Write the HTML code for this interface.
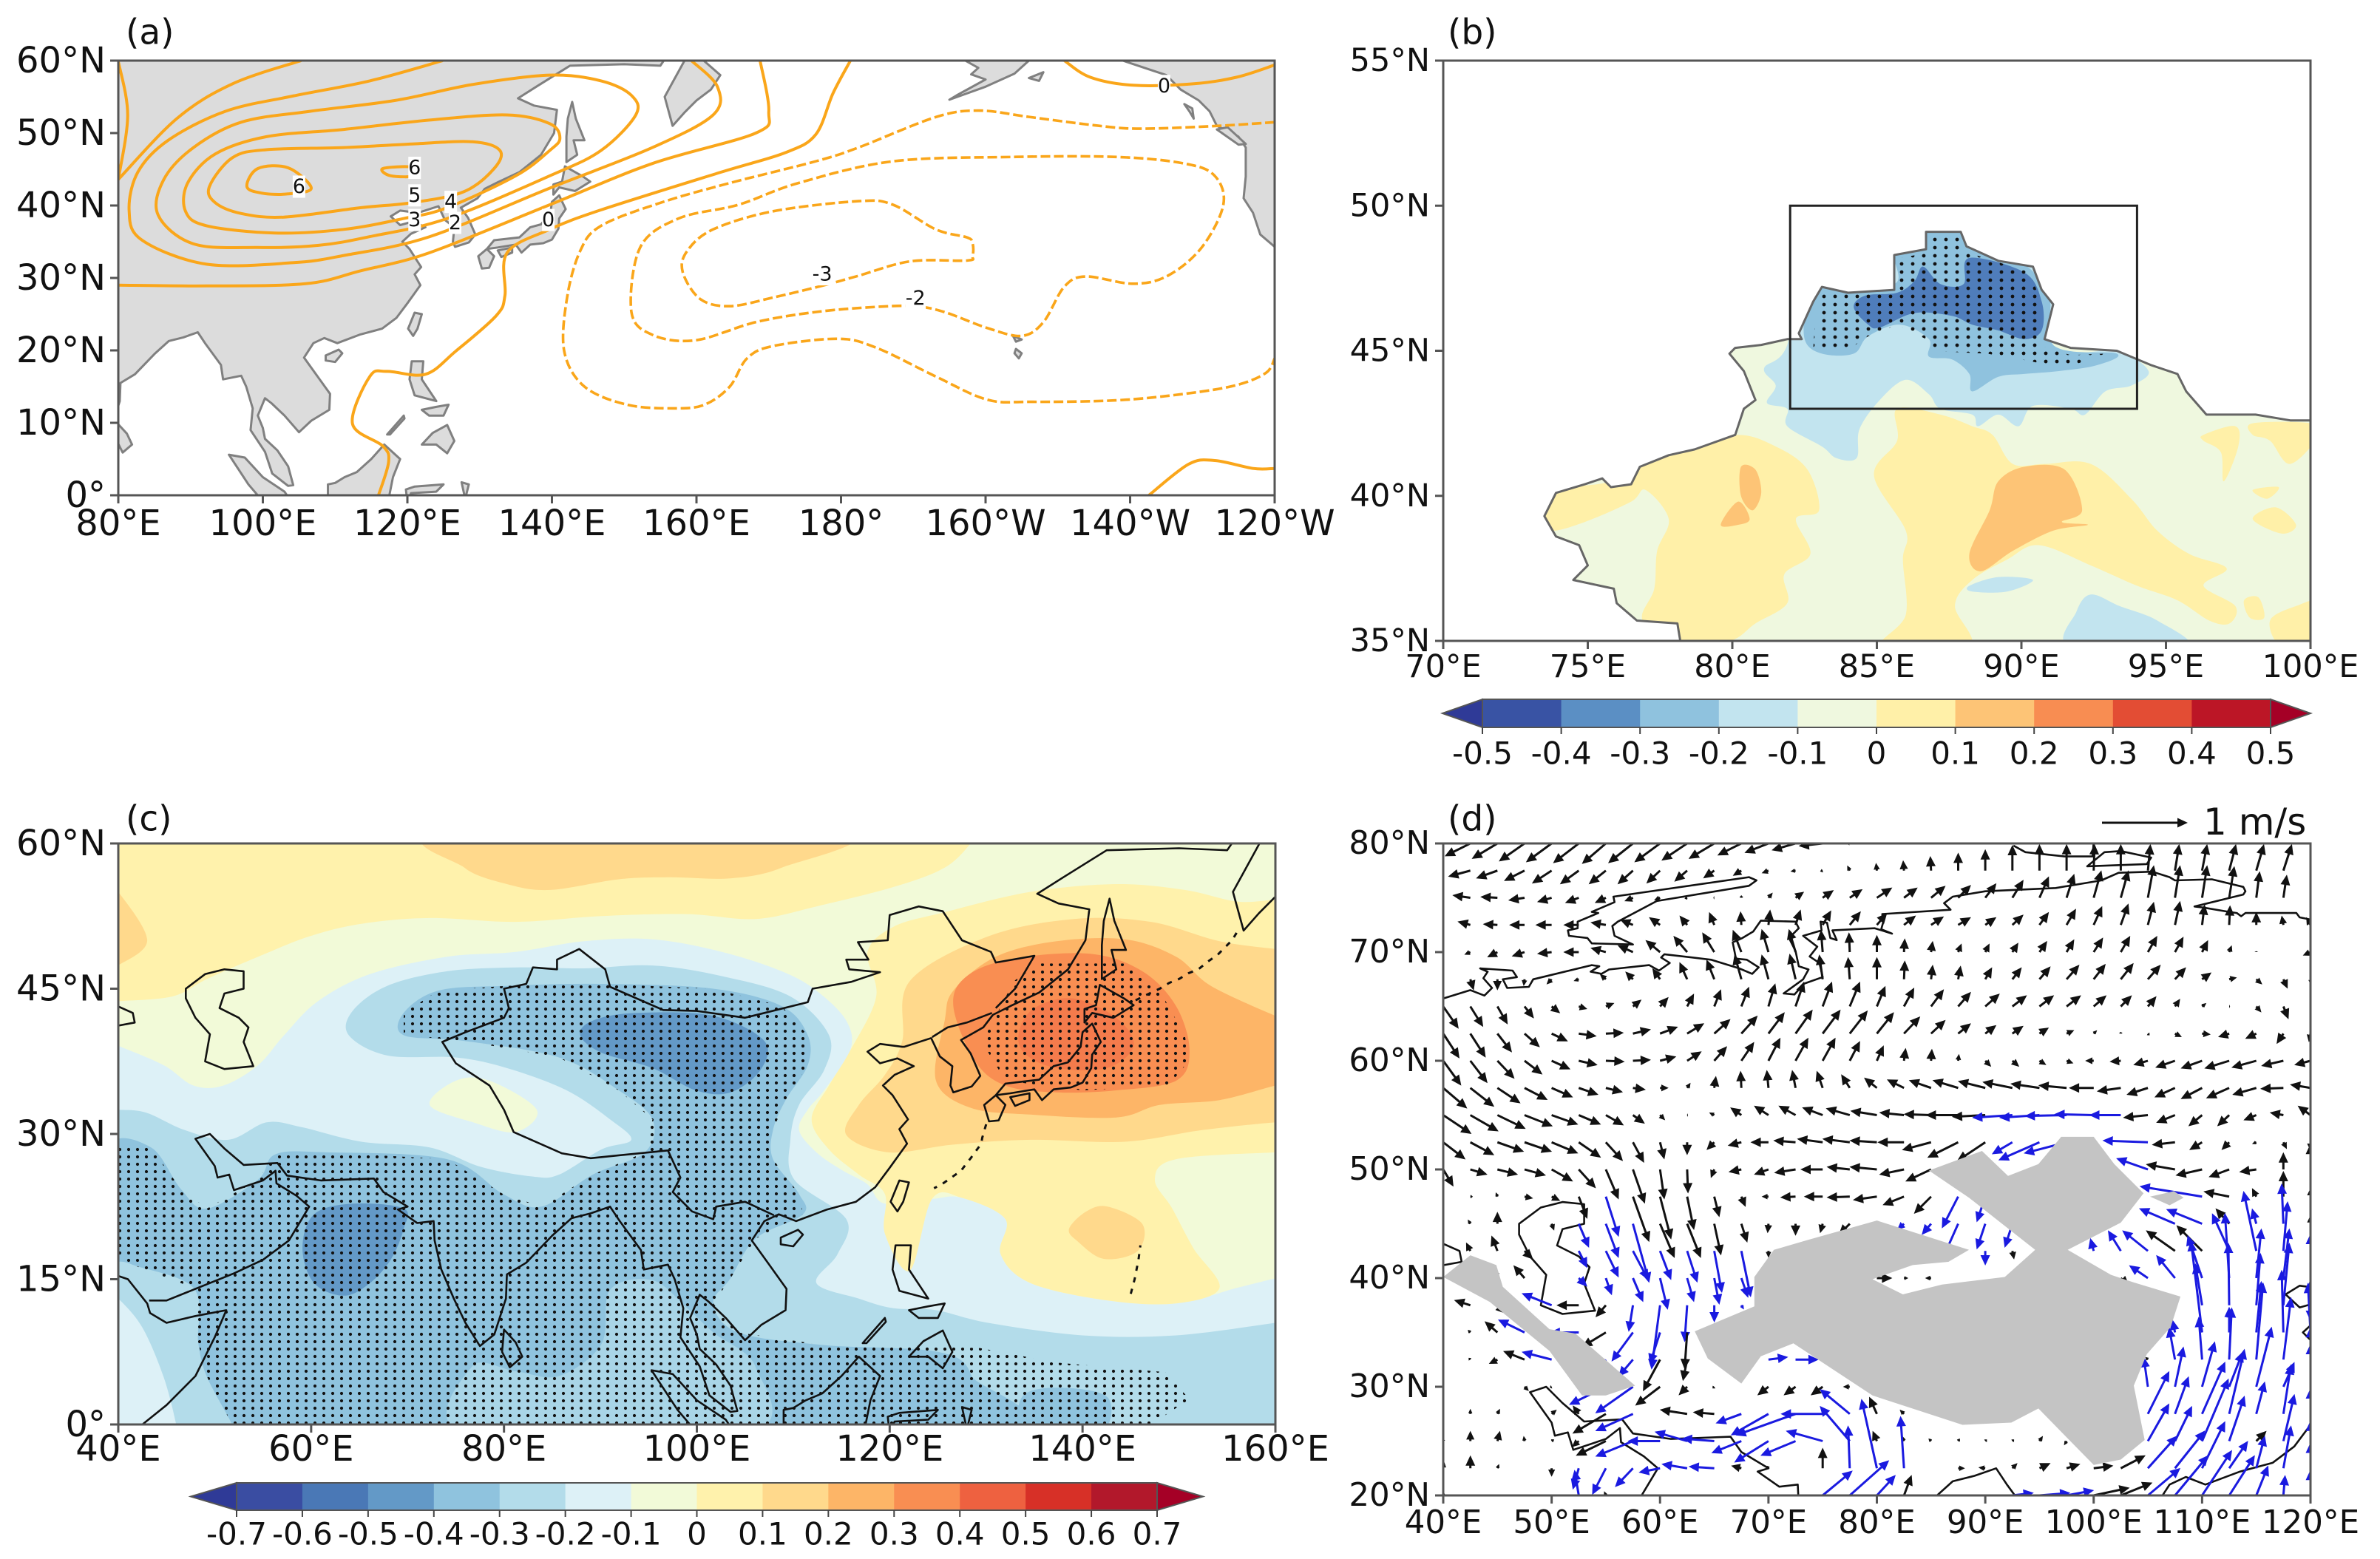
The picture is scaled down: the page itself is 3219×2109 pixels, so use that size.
<!DOCTYPE html>
<html lang="en"><head><meta charset="utf-8"><title>Four-panel climate anomaly maps</title>
<style>html,body{margin:0;padding:0;background:#fff;width:3219px;height:2109px;overflow:hidden}svg{display:block;overflow:hidden}text{font-family:"DejaVu Sans","Liberation Sans",sans-serif;fill:#111}</style></head>
<body>
<svg id="fig" xmlns="http://www.w3.org/2000/svg" width="3219" height="2109" viewBox="0 0 3219 2109">
<defs>
<pattern id="dotsB" patternUnits="userSpaceOnUse" width="15" height="11"><circle cx="7" cy="5" r="2.4" fill="#111"/></pattern>
<pattern id="dotsC" patternUnits="userSpaceOnUse" width="12" height="10"><circle cx="6" cy="5" r="2.1" fill="#111"/></pattern>
</defs>
</svg>
<script>
// ---------- shared geography (lon, lat) ----------
const asiaCoast=[[43.2,12.8],[45,12.8],[48,14],[52,15.6],[55,17],[57.7,19],[59.8,22.5],[58.5,23.6],[56.4,24.9],[56.3,26.2],[55,25.2],[52,24.2],[51.5,25.8],[50.3,25.5],[50,26.7],[48,29.5],[49.5,30],[51,28.5],[53,26.8],[56.5,27],[57.5,25.7],[61,25.2],[66.5,25.4],[67.5,24],[70,22.5],[69,22.2],[71,20.8],[72.7,21],[72.8,19],[73.5,16],[74.8,13],[76,10.5],[77.5,8.1],[79,9.3],[80.2,13],[80.3,15.5],[82.3,16.7],[85,19.5],[87,21.3],[89,21.8],[91,22.5],[92,21],[94.2,18],[94.5,16],[97,16.5],[97.7,15],[98.6,12],[98.3,9],[100.3,6],[101.3,3],[103.5,1.3],[104.2,1.4],[103.5,4],[102,6.2],[100.3,7.8],[100,9.3],[99.3,11],[100.3,13.4],[101.2,12.7],[103,11],[105,8.7],[106.7,10.3],[109.2,11.8],[109.3,14],[107.5,16.5],[105.7,19],[107,21],[108.5,21.7],[110.3,21],[113.5,22.2],[116.5,23],[118.5,24.5],[120,26.5],[121.8,29],[121,30.5],[121.9,31.5],[120.3,34],[119.3,35],[120.5,36.1],[122.5,37],[120.8,37.8],[119,37.3],[117.7,38.5],[119,39.3],[121.3,39],[121.5,39],[124.3,39.9],[125.2,38],[126.5,37],[126.3,35],[126.6,34.3],[128.5,34.9],[129.4,36],[128.4,38.3],[127.4,39.7],[129.7,41],[130.7,42.3],[132.5,43.2],[135.5,44.6],[138.5,47],[140.3,50],[140.7,53.2],[137.5,53.8],[135.3,54.8],[138,56.5],[142.5,59.3],[150,59.5],[155,59.3],[156.5,61.5],[163,63]];
const africaCoast=[[42.5,0],[45,2],[48,5],[50,9],[51.2,11.8],[48,11.2],[45,10.5],[43.3,11.5],[43,12.5],[41,15],[39.5,15.5],[38.5,18],[37.2,21]];
const kamchatka=[[160,63],[156.7,57],[155.6,55],[156.7,51],[158.3,52.8],[160,54.5],[162,56],[163.3,58],[161,60],[165,63]];
const sakhalin=[[142,46],[143.5,47],[143,49],[144.5,49],[143.3,52],[142.8,54.3],[142.2,52],[142,49.5]];
const hokkaido=[[140.2,41.5],[141,42.5],[143.2,42],[145.3,43.3],[144.3,44],[141.8,45.4],[141.4,43.3],[140.2,42.9]];
const honshu=[[141,41.4],[141.9,39.5],[141,38.2],[140.9,36.8],[140,35.3],[138.8,34.8],[137,34.6],[135.8,33.5],[135,34.6],[132.5,34.2],[131,34],[132,35.2],[135.5,35.6],[137,37],[138.5,37.4],[139.8,39],[140,40.5]];
const kyushu=[[131,34],[132,33],[131.3,31.4],[130.3,31.3],[129.8,33]];
const shikoku=[[132.5,33.8],[134.5,34.2],[134.5,33.5],[133,32.9]];
const taiwan=[[121,25.2],[122,25],[121.4,23],[120.8,22],[120.1,23]];
const hainan=[[108.7,19.3],[110.5,20.1],[111,19.6],[110,18.4],[108.7,18.6]];
const luzon=[[120.6,18.5],[122.2,18.5],[122,16],[124,13],[121,13.8],[120.3,16]];
const visayas=[[122,11.8],[123,11],[125,11],[125.7,12.5],[124,12.2]];
const mindanao=[[122,7],[123.5,8.6],[125.5,9.7],[126.5,7.5],[125.5,5.8],[124,7]];
const palawan=[[117.2,8.4],[119.5,11],[119.6,10.6],[117.6,8.4]];
const borneo=[[109,1.5],[110,1.7],[111.3,2.5],[113,3.2],[115,5],[116.8,7],[119,5],[118,2.5],[117.5,0],[117,-1],[109,-1],[109,0]];
const sumatra=[[95.3,5.6],[97.5,5.2],[100,2.5],[103,0.5],[104,-1],[101,-2],[98,1.5]];
const sulawesi=[[119.8,0.8],[121,1.2],[125,1.5],[124,0.5],[120.5,0.3],[120,-1]];
const halmahera=[[127.5,1.8],[128,-0.5],[128.5,1.5]];
const sriLanka=[[80,9.8],[81.2,8.5],[81.9,7],[80.6,5.9],[79.8,7.5]];
const caspian=[[47,45],[49,46.5],[51,47],[53,46.8],[53,45],[51,44.5],[50.5,43],[52.5,42],[53.5,41],[53,39.5],[54,37],[51,36.7],[49,37.5],[49.5,40.3],[48,42],[47,44]];
const blackSea=[[39,41],[41.7,41.5],[41.5,42.5],[39,43.6]];
const hawaii=[[203.8,22],[205,21.5],[204.2,21.2]];
const hawaiiBig=[[204.2,20.2],[205,19.6],[204.6,18.9],[204,19.6]];
const alaska=[[195,54.6],[200,56.4],[204,58.2],[206,60],[207,63],[197,63],[197.2,60],[199,59],[198,58.1],[200,57.4],[196,55.2]];
const kodiak=[[206,57.6],[208,58.4],[207.4,57.2]];
const northAmerica=[[211,60],[214,60.5],[219,60],[222,59],[225,58],[227,56],[229.5,54.5],[231,53],[232,51],[235,49.5],[236,48],[236,44],[235.7,41],[237,39],[238,36],[240,34.3],[245,34],[245,63],[211,63]];
const haidaGwaii=[[227.5,54],[228.2,53],[228.8,52],[228.6,53.4]];
const vancouver=[[232,50.5],[235,48.4],[236,48.5],[233.5,50.8]];
const chinaBorder=[[131,43],[133,45],[135,48.4],[131,47.7],[130.5,48.8],[127.5,50],[125.5,53],[123,53.5],[120,52.6],[119.8,50],[116.7,49.8],[117.8,48],[115.5,48],[115.8,47],[119,46.7],[116,45.7],[112,45],[111.5,43.6],[105,42],[100,42.7],[96.5,42.8],[91,45.2],[90.5,47],[87.8,49.1],[85.5,48],[85.5,47],[83,47.2],[82.3,45.5],[80,45],[80.5,43],[80,42],[76,40.5],[73.6,39.5],[75,37.3],[78.5,35],[80,32.5],[81,30.2],[86,28],[89,27.5],[92,27.8],[97,28.3],[98.3,25.5],[97.5,24],[99.5,22],[101.7,21.2],[102,22.5],[105,23],[108,21.6]];
const koreaBorder=[[130.6,42.5],[128,41.5],[126,41],[124.4,40]];
const kurils=[[145.5,43.8],[146.5,44.3],[148,45],[149,45.6],[150,46],[151,46.6],[152,47],[153,47.8],[154,48.5],[155,49.5],[155.5,50],[156,50.8]];
const ryukyu=[[130,31],[129.6,29.6],[129.5,29],[128.4,27.5],[128,27],[127.4,26.2],[125.4,24.8],[124.6,24.4]];
const marianas=[[145,13.5],[145.4,15],[145.8,17],[146,18.5]];
const arcticCoast=[[39.9,65.7],[42.5,66.5],[43.8,66],[44.5,66.7],[43.7,67.6],[44.1,68.2],[43.4,68.5],[46.4,68.3],[46.8,67.7],[45.5,67.5],[45.9,66.7],[47.9,66.8],[48.3,67.5],[53.7,68.8],[54.4,68.7],[53.6,68.2],[54.6,68],[55.3,68.4],[59,68.8],[59.9,68.3],[60.9,69],[60.1,69.5],[60.4,69.8],[64.7,69.3],[67.3,68.5],[68.5,68],[69.1,68.6],[68,69.3],[67,69.4],[66.7,70.9],[67.6,71.3],[68.6,71.9],[69.3,72.9],[72.5,72.8],[72.8,72.2],[71.9,71.3],[72.5,70.1],[72.8,68.7],[73.7,68.4],[73.2,67.5],[71.4,66.2],[72.4,66.1],[73.3,67.1],[75,67.7],[74.7,69],[73.8,69.6],[74.5,70.5],[73.2,71.5],[74.9,72],[74.8,72.8],[75.4,72.7],[75.7,71.3],[76.3,71.1],[75.9,72],[79.8,72.2],[81.4,71.7],[80.4,72.1],[80.6,72.8],[80.5,73.5],[86.8,73.9],[86.2,74.5],[87,75.1],[90,75.6],[96.5,75.9],[100.7,76.6],[102.3,77.3],[105.4,77.4],[107,76.9],[107.5,76.6],[110.9,76.7],[113.8,76],[114,75.6],[113.8,75.3],[109.3,74.2],[110.1,74.1],[112.5,73.7],[113.2,73.6],[113.6,73.3],[114,73.6],[118.7,73.6],[119,73.2],[120,73]];
const novayaZemlya=[[55.7,75.1],[68.2,76.9],[68.9,76.6],[68.2,76.1],[59.7,74.7],[56.1,72.8],[55.6,72.4],[55.8,71.5],[57.5,70.7],[53.7,70.8],[53.3,71.3],[51.6,71.5],[51.5,72],[52.4,72.2],[52.4,72.8],[54.3,73.6],[53.7,73.7],[55.8,74.6]];
const severnayaA=[[92.6,79.8],[93.7,79.2],[97.3,78.8],[99.9,78.8],[100,80.2]];
const severnayaB=[[99.4,77.9],[101,79.2],[102.5,79.3],[105.3,78.7],[104.9,78.1]];
const islandsSmall=[hainan,taiwan,luzon,visayas,mindanao,palawan,borneo,sumatra,sulawesi,halmahera,sriLanka,sakhalin,hokkaido,honshu,kyushu,shikoku];

// ---------- panel (a) contours, lon/lat ----------
const contourZero=[[181.3,60],[178.9,55.5],[176.5,49.8],[172.3,47.3],[163.4,44.6],[146.8,39.4],[139.7,36.7],[133.8,33.5],[133.5,27.6],[132.3,24.8],[126.7,19.9],[122.5,16.7],[117.2,17.1],[114.8,16.4],[112.4,9.9],[116.6,6.8],[117.4,4.6],[116,0]];
const contourOneNorth=[[105.3,60],[95.8,56.8],[88.1,52],[80,43.6]];
const contourOneEdge=[[80,59.9],[81.3,52.5],[80,43.6]];
const contourOneSouth=[[80,29],[92.2,28.9],[105.9,29.2],[113.6,31],[123.1,33.5],[139.7,40.1],[153.9,45.8],[168.2,50],[170,53],[168.8,60]];
const contourTwo=[[124.9,60],[114.8,57.2],[104.1,55.1],[94.8,53],[86.9,49],[82.7,44.6],[81.5,39.2],[83.3,35.2],[92.2,31.9],[104.1,32.1],[111.2,33.1],[123.1,35.7],[139.7,42.4],[153.9,48],[162.3,52.5],[162.9,56.4],[159.3,60]];
const contourThree=[[139.7,58],[129,56.7],[118.3,54.5],[106.5,53],[97,51.5],[90.4,48],[86.3,43.6],[85.5,38.7],[90.4,34.7],[99.3,34.2],[107.7,34.5],[114.8,35.7],[125.5,38.2],[139.7,44.1],[146.8,47.6],[151.6,52.5],[151,55.2],[146.8,57.2]];
const contourFour=[[133.8,52.5],[123.1,51.8],[111.2,50.5],[100.5,49.5],[93.4,47.1],[89.6,43.1],[89.3,39.2],[92.2,37.2],[101.7,36.2],[111.2,36.7],[119.5,38.2],[125.5,39.7],[135,44.1],[139.7,47.6],[141.1,49.3],[139.7,51.3]];
const contourFive=[[129,48.8],[120.7,48.5],[111.2,48],[100.5,47.7],[95.8,46.6],[92.6,42.6],[93.4,40.4],[97,38.9],[102.9,38.4],[113.6,39.7],[120.7,40.4],[127.8,41.9],[132,45.1],[132.8,47.6]];
const contourSixWest=[[99.3,45.1],[103.5,45.2],[106.7,42.4],[103.5,41.6],[99.9,41.7],[97.8,42.6]];
const contourSixEast=[[116.6,45.1],[120.7,45.3],[121.3,44.1],[117.7,44.1]];
const contourZeroNE=[[210.9,60],[214.5,57.7],[220.4,56.6],[228.7,56.8],[234.7,57.7],[240,59.4]];
const contourZeroSE=[[222.6,0],[228.1,4.3],[231.7,4.8],[237,3.7],[240,3.7]];
const contourMinusOne=[[240,51.5],[232.3,51],[221.6,50.6],[215.7,51],[206.2,52.2],[199.1,53.1],[193.1,52.2],[182.4,48],[176.5,46.1],[164.6,43.1],[155.1,40.4],[146.8,37.2],[143.9,33.7],[142.1,27.3],[141.7,19.9],[144.5,15],[150.4,12.5],[156.9,12],[161.1,12.5],[164.6,15],[167,18.9],[170.6,20.6],[179.5,21.6],[184.8,20.4],[193.1,16.4],[200.2,13.2],[206.2,12.9],[218,13.1],[227.5,14],[234.7,15.2],[238.8,16.9],[240,18.9]];
const contourMinusTwo=[[190.2,26.1],[184.8,26],[176.5,25.3],[168.2,23.9],[159.9,21.4],[154,22.1],[151,25.3],[152.2,34.2],[157.5,38.2],[165.8,40.1],[174.1,43.1],[187.2,46.1],[203.8,46.7],[218.1,46.7],[227.5,45.8],[231.7,44.1],[232.9,40.1],[229.9,34.2],[225.2,30.3],[220.4,29.2],[213.9,30.2],[210.9,28.8],[208,23.9],[205,22],[200.2,23.1],[194.3,25.3]];
const contourMinusThree=[[177.7,29],[170.6,27.3],[164.6,26.1],[160.5,27.1],[158.1,30.8],[158.7,33.7],[162.3,36.7],[170.6,39.2],[182.4,40.6],[187.2,40.1],[193.1,36.7],[197.4,35.6],[198.2,34.8],[198.2,33],[197.4,32.4],[189.6,32.3],[182.4,30.3]];
const contourLabels=[["6",105,42.6],["6",121,45.2],["5",121,41.4],["4",126,40.5],["3",121,38],["2",126.6,37.6],["0",139.5,38],["-3",177.4,30.5],["-2",190.3,27.2],["0",224.7,56.5]];

// ---------- panel (b) temperature bands, lon/lat ----------
const xinjiangBorder=[[78.2,35],[78.1,35.6],[76.7,35.7],[76,36.3],[75.9,36.8],[74.5,37.1],[75,37.6],[74.7,38.3],[73.9,38.6],[73.5,39.3],[73.9,40.1],[74.9,40.4],[75.5,40.6],[75.8,40.3],[76.5,40.4],[76.8,41],[77.8,41.4],[78.7,41.6],[80.1,42.1],[80.4,43],[80.8,43.3],[80.4,44.3],[79.9,44.9],[80.1,45.1],[81,45.2],[81.9,45.4],[82.4,45.4],[82.3,45.6],[82.8,46.7],[83.1,47.2],[84,47],[85.6,47.1],[85.6,48.3],[86.7,48.5],[86.7,49.1],[87.9,49.1],[88.1,48.6],[89.2,48.1],[90.4,47.9],[90.7,47.1],[91.1,46.6],[90.8,45.4],[91.7,45.1],[93.3,45],[94.5,44.5],[95.4,44.2],[95.7,43.6],[96.4,42.8],[98.1,42.8],[99.3,42.6],[100,42.6]];
const bYellowWest=[[73.7,38.8],[74.9,39.1],[76.5,39.8],[77,40.2],[77.8,39.2],[77.4,38.1],[77.3,36.8],[76.9,35.7],[78.2,35],[79.9,35],[80.8,35.6],[81.9,36.3],[81.8,37.3],[82.7,38],[82.2,39.2],[83,39.5],[82.6,40.9],[81.5,41.7],[80.1,42.1],[77.8,41.6],[75.8,40.5],[73.5,40.2],[73.3,39.3]];
const bOrangeWestA=[[80.3,41],[80.8,40.9],[81,40.1],[80.7,39.5],[80.3,40]];
const bOrangeWestB=[[79.6,39],[80.2,39.8],[80.6,39.2],[80.2,39]];
const bYellowCentral=[[85.7,43],[87.2,42.8],[88.3,42.4],[89,42.1],[89.7,41.1],[90.8,41.1],[92.4,41.1],[93.8,39.9],[94.7,38.8],[95.8,38],[97.1,37.5],[96.3,36.9],[97.4,36.2],[97.2,35.6],[96.5,35.7],[95.4,36.4],[94,36.9],[92.4,37.6],[90.6,38.3],[89.5,37.8],[88.3,37.1],[87.7,36.2],[88.2,34.8],[85.2,34.8],[86,35.9],[85.9,37.8],[86,38.8],[84.9,40.7],[85.7,41.9]];
const bOrangeCentral=[[88.2,38],[88.9,39.5],[89.2,40.5],[90.1,41],[91.5,40.9],[92.1,39.5],[91.4,39.1],[92.3,39],[91.1,38.8],[89.7,38.1],[88.6,37.4]];
const bYellowEast=[[[96.3,42.1],[97.4,42.4],[97.5,41.7],[97,40.5],[96.9,41.5],[96.3,41.9]],[[98,42.5],[100,42.5],[100.3,42.1],[99.3,41.1],[98.6,41.9],[98,42.1]],[[98,40.2],[98.9,40.3],[98.5,39.9]],[[98,39.2],[98.8,39.6],[99.5,39],[99,38.7]],[[98.6,35.7],[99.5,36.2],[100.3,36.3],[100.3,34.8],[99,34.8]],[[97.7,36.4],[98.2,36.5],[98.4,35.8],[97.9,35.8]]];
const bLightBlue=[[81.9,45.2],[81.1,44.4],[81.5,43.8],[81.2,43.2],[81.9,43],[81.9,42.4],[83.1,41.7],[83.6,41.3],[84.3,41.3],[84.4,42.3],[85.1,43.3],[86,44],[86.8,43.5],[87.2,43],[88.3,42.8],[88.5,42.4],[89.2,42.8],[89.9,42.4],[90.4,43.1],[91.7,43],[92.2,42.8],[92.9,43.6],[93.8,43.8],[94.4,44.3],[93.3,45],[91.1,45.2],[91.3,48.8],[86.7,49.5],[82.6,48.5]];
const bLightBlueSouth=[[[88.2,36.9],[89.2,37.2],[90.4,37.1],[89.5,36.7],[88.3,36.7]],[[91.7,34.8],[91.9,36],[92.4,36.6],[93.4,36.2],[94.7,35.7],[95.7,34.8]]];
const bMidBlue=[[82.5,45.4],[82.6,46.7],[83.1,47.4],[85.6,47.3],[85.6,48.5],[86.7,49.3],[88.1,49.3],[90.8,47.3],[91.1,45.2],[93.3,44.9],[92.6,44.5],[91.3,44.3],[90.1,44.2],[89.2,44.1],[88.3,43.6],[88.2,44.2],[87.6,44.7],[86.8,44.8],[86.8,45.4],[85.8,45.9],[84.7,45.5],[84.2,44.9],[83.1,44.9]];
const bDarkBlue=[[84.2,46.5],[84.6,46.9],[85.7,47],[86.3,47.4],[86.6,47.9],[87.2,47.3],[88,47.3],[88.2,48.2],[90.1,47.7],[90.7,46.7],[90.7,45.7],[90.1,45.4],[89.2,45.7],[88.3,45.9],[87.6,46.2],[86.3,46.3],[85.1,45.8],[84.7,45.9]];
const bStipple=[[82.8,45.1],[82.9,46.6],[83.2,47.1],[85.7,47],[85.8,48.2],[86.9,48.4],[86.9,48.95],[87.8,48.95],[88.1,48.4],[90.3,47.7],[90.7,46.6],[90.6,45.2],[91.7,44.85],[92.9,44.9],[91.5,44.4],[90,44.7],[88.8,44.9],[86.8,45],[86.7,45.4],[85.7,45.9],[84.7,45.5],[84.1,45.1],[83,45]];
const bStudyBox=[82,94,43,50];

// ---------- panel (c) filled bands, lon/lat ----------
const cBase="#fff2ac";
const cWarmTop=[[74.1,61],[75.9,57.5],[80.3,55.8],[84.8,55.2],[91.9,56.3],[97.2,56.5],[103.5,56.4],[108.8,57.5],[114.6,61]];
const cWarmLeft=[[39,55.5],[40,55],[43,50],[40,47.4],[39,47]];
const cGreen=[[40,43.7],[45.6,44.2],[49.2,46],[54.5,48.3],[59.8,50.4],[65.2,51.7],[72.3,52.3],[81.2,51.9],[90.1,52.5],[99,52.7],[106.1,52.2],[112.4,53.5],[120.4,55.5],[125.7,57.5],[128.4,60],[128.8,61],[161,61],[161,-1],[39,-1],[39,43.5]];
const cPaleBlue=[[39,39.5],[40,39.1],[44.7,37.1],[47.8,35],[50.9,35],[54.5,37.1],[57.2,40.2],[60.7,43.7],[66.1,46.5],[74.1,48.3],[81.2,48.8],[88.3,49.9],[95.4,50.1],[102.6,48.8],[108.8,46.8],[112.4,44.8],[115.5,41.7],[115.9,38.6],[113.2,34.5],[111.5,32.5],[110.6,30.4],[112.4,28.1],[115,26.3],[117.7,24.8],[119.5,22.8],[124.4,23.3],[127.5,23.4],[132,21.2],[131.5,17.6],[134.6,14.6],[142.6,12.8],[149.7,12.5],[156,14.1],[160,15.1],[161,15.3],[161,-1],[39,-1]];
const cTibetGreen=[[75,35.5],[78.5,35.5],[83.4,32.5],[81.2,30.2],[76.8,31.2],[72.3,33]];
const cBlueOuter=[[63.9,40.2],[64.3,42.7],[67.9,45.3],[74.1,46.8],[81.2,47.2],[88.3,47.1],[95.4,47.4],[102.6,46.3],[109.7,44.2],[113.7,40.2],[113.2,36.6],[110.6,33],[109.7,29.4],[110.1,25.3],[115.5,21.2],[114.6,17.6],[112.4,14.6],[116.8,13],[120.4,12],[124.8,11.8],[130.2,10.5],[140,9.2],[149.7,9.2],[160,10.5],[161,10.7],[161,-1],[46,-1],[46,0],[44.7,4.9],[42.5,10],[40,13],[39,13.4],[39,32.6],[40,32.5],[42.9,32.2],[46.9,30.4],[51.4,29.4],[55.4,31.2],[59,30.7],[65.2,29.2],[72.3,28.6],[77.6,26.6],[83,25.6],[85.7,25.8],[90.1,28.4],[93.2,29.4],[91,31.5],[86.5,34.5],[80.3,36.8],[75,37.9],[67.9,38.1]];
const cBlueMid=[[69.6,42.5],[73.2,44.8],[80.3,45.3],[90.1,45.5],[101.7,45],[108.8,43.2],[111.5,40.2],[111.5,37.1],[109.2,33.5],[107.9,30.4],[107.9,27.4],[110.6,23.8],[111,21.7],[106.1,19.2],[103.5,15.1],[101.7,12.5],[104.3,9.5],[113.2,8.2],[125,7.5],[128.5,5],[128.5,-1],[51.8,-1],[51.8,0],[49.2,4.9],[48.3,8.4],[47.8,14.1],[41.2,16.6],[39,18],[39,28.6],[43.4,28.6],[46.5,24.3],[49.2,22.3],[54.5,25.3],[56.3,27.9],[61.6,28.1],[74.1,27.4],[79.9,23.8],[83.9,22.5],[89.2,25.8],[94.6,28.1],[95.4,31.5],[91.9,34.5],[85.7,37.9],[75.9,39.6],[69.6,40.2]];
const cBlueMidEast=[[133.7,2.8],[137.3,3.8],[142.6,2.8],[141.7,-1],[134.2,-1]];
const cLighterSouth=[[76.2,-1],[76.7,6],[81.2,5.5],[85.7,5],[90.1,8.3],[91,13.9],[95.4,14.9],[99,12],[101.7,9.5],[106.1,5.9],[105.2,-1]];
const cDeepNorth=[[87.9,40.2],[89.2,41.7],[93.7,42.5],[101.7,42.2],[107,39.6],[106.6,36.6],[103.5,34.3],[99.9,34.5],[95.4,36.8],[90.1,38.4]];
const cDeepArabian=[[59.1,18.2],[60.3,21.7],[64.3,22.8],[69.6,22.3],[69.6,20.2],[68.3,17.1],[66.1,14.6],[63.4,13.3],[60.3,14.6]];
const cYellowEast=[[117.7,48.8],[118.6,44.2],[115.9,38.6],[113.7,35],[111.9,31.5],[113.7,28.4],[116.8,25.8],[119.5,23.8],[119.5,19.7],[122.1,15.9],[124.4,23.3],[127.5,23.4],[132,21.2],[131.5,17.6],[134.6,14.6],[142.6,12.8],[149.7,12.5],[154.2,14.1],[151.5,18.2],[149.3,22.3],[147.5,25.3],[149.7,27.4],[160,28.1],[161,28.1],[161,54.2],[160,54.2],[156,54],[150.6,55.2],[143.5,55.8],[134.6,55],[125.7,52.9],[120.4,51.4]];
const cOrangePale=[[122.1,45.8],[130.2,50.4],[139.1,52.2],[147.1,51.9],[154.2,49.9],[160,49.1],[161,49],[161,31.1],[160,31.2],[152.4,30.4],[144.4,29.2],[134.6,29.4],[126.6,28.9],[119.9,28.1],[115.5,29.9],[116.8,33],[119.5,36.1],[121.3,39.6]];
const cOrangeBlob=[[138.6,20.2],[140.4,22],[142.6,22.5],[146.2,20.7],[145.7,17.9],[142.2,17.1],[139.5,18.9]];
const cOrangeMid=[[124.8,35.5],[125.7,41.7],[126.6,44.8],[131,48.3],[137.3,49.9],[144.4,50.1],[149.7,48.3],[153.3,45.3],[160,42.2],[161,42],[161,35],[160,35],[154.2,33.5],[148,33],[143.5,31.7],[134.6,32],[128.4,32.7]];
const cOrangeStrong=[[126.6,43.2],[128,46.3],[132.8,48.1],[140.8,48.6],[146.2,46.8],[149.7,43.2],[151.1,38.6],[149.7,35.5],[143.5,34.5],[137.3,34.3],[132,35],[128.8,37.6]];
const cOrangeCore=[[133.4,40.5],[135,43],[139,44],[143.5,42],[145.3,39.1],[142.5,36.8],[137.3,36.8],[134,38.3]];
const cStippleMain=[[69.6,42.5],[73.2,44.8],[80.3,45.3],[90.1,45.5],[101.7,45],[108.8,43.2],[111.5,40.2],[111.5,37.1],[109.2,33.5],[107.9,30.4],[107.9,27.4],[110.6,23.8],[111,21.7],[106.1,19.2],[103.5,15.1],[101.7,12.5],[104.3,9.5],[113.2,8.2],[129.3,7.9],[137.3,6.4],[148.6,5.4],[151.1,2.6],[147.1,0],[51.8,0],[49.2,4.9],[48.3,8.4],[47.8,14.1],[41.2,16.6],[40,17.6],[40,28.6],[43.4,28.6],[46.5,24.3],[49.2,22.3],[54.5,25.3],[56.3,27.9],[61.6,28.1],[74.1,27.4],[79.9,23.8],[83.9,22.5],[89.2,25.8],[94.6,28.1],[95.4,31.5],[91.9,34.5],[85.7,37.9],[75.9,39.6],[69.6,40.2]];
const cStippleEast=[[130.2,40.7],[132.9,45.8],[135.5,47.6],[144.4,47.6],[148,44.8],[150.6,40.2],[151.1,37.6],[148.9,35],[140,34.5],[132,35.5],[129.8,39.1]];

// ---------- panel (d) wind anomalies, m/s; rows run lat 80 to 20, columns lon 40 to 120 (2.5 deg) ----------
const windU=[
[0,-.3,-.3,-.3,-.3,-.3,-.28,-.29,-.3,-.3,-.3,-.28,-.28,-.28,-.28,-.03,0,0,0,0,0,0,0,0,0,0,0,0,0,0,0,0,0],
[0,-.26,-.25,-.24,-.23,-.22,-.2,-.18,-.16,-.15,-.13,-.1,-.08,-.06,-.03,-.03,-.01,-.01,-.01,0,0,0,0,0,.01,0,.03,.05,.06,.08,.09,.1,0],
[0,-.21,-.2,-.19,-.17,-.16,-.13,-.1,-.07,-.03,-.01,0,.05,.1,.13,.15,.18,.16,.17,.15,.13,.13,.11,.09,.09,.09,.07,.06,.06,.06,.04,.04,0],
[0,-.15,-.17,-.18,-.19,-.18,-.18,-.15,-.13,-.09,-.06,-.01,.02,.06,.1,.13,.12,.14,.15,.15,.13,.13,.11,.11,.1,.09,.07,.06,.03,.01,0,-.02,-.05],
[0,-.07,-.12,-.15,-.17,-.18,-.18,-.18,-.17,-.16,-.14,-.1,-.08,-.08,-.02,-.01,0,.01,.02,.04,.05,.07,.09,.09,.11,.11,.11,.1,.07,.03,0,0,-.09],
[0,.04,0,-.01,-.06,-.06,-.07,-.09,-.09,-.09,-.09,-.08,-.08,-.07,-.04,-.02,0,.01,.02,.03,.08,.11,.13,.15,.14,.15,.15,.13,.11,.09,.07,.05,0],
[.18,.15,.12,.11,.1,.1,.1,.1,.1,.08,.08,.09,.08,.1,.11,.12,.1,.12,.15,.15,.17,.17,.17,.17,.15,.13,.1,.06,.05,.01,.06,.06,0],
[.19,.18,.17,.18,.19,.21,.21,.21,.21,.2,.19,.19,.19,.2,.21,.21,.2,.19,.17,.15,.13,.13,.11,.09,.04,0,.02,.08,.1,-.13,-.13,-.08,-.02],
[.21,.2,.2,.21,.22,.22,.22,.21,.19,.17,.15,.15,.14,.15,.15,.12,.08,.02,.01,.01,.07,.08,.08,.08,-.1,-.13,-.17,-.23,-.25,-.29,-.29,-.26,-.19],
[.28,.28,.27,.27,.25,.23,.2,.15,.1,.04,.02,-.01,-.02,-.04,-.07,-.1,-.15,-.2,-.26,-.3,-.32,-.35,-.34,-.33,-.29,-.28,-.25,-.24,-.25,-.27,-.28,-.27,-.24],
[.33,.33,.33,.33,.31,.26,.21,.14,.06,.01,-.06,-.13,-.17,-.2,-.24,-.28,-.31,-.29,-.32,-.38,-.39,-.47,-.47,-.49,-.46,-.37,-.29,-.22,-.16,-.14,-.15,-.16,-.15],
[.26,.28,.31,.32,.31,.26,.2,.13,.05,0,-.09,-.16,-.21,-.26,-.3,-.32,-.32,-.31,-.34,-.36,-.33,-.24,-.48,-.5,0,0,-.53,-.27,-.15,-.09,-.05,.04,0],
[.12,.2,.24,.25,.25,.2,.15,.14,.05,.01,-.04,-.15,-.17,-.25,-.26,-.27,-.32,-.29,-.3,0,0,0,0,0,0,0,-.37,-.34,-.31,-.24,-.2,0,0],
[0,.03,-.02,.1,.1,.1,.15,.19,.13,.08,.06,.05,-.08,-.18,-.22,-.27,-.28,-.25,-.2,-.19,-.1,0,0,0,0,0,0,0,-.73,-.3,-.05,0,0],
[0,-.03,0,0,.03,.12,.15,.19,.17,.16,.08,.07,-.01,0,-.03,-.13,-.25,-.08,-.11,-.2,-.1,-.09,0,0,0,0,0,-.42,-.42,-.16,-.05,-.02,0],
[0,-.05,-.07,.1,0,.1,.15,.18,.13,.12,.09,.11,0,0,0,0,0,0,0,0,0,.02,0,0,-.04,-.15,-.3,-.34,-.3,-.2,-.15,.05,0],
[0,0,-.1,-.13,0,.1,.07,.12,.09,.08,.06,.08,0,0,0,0,.18,.05,-.07,0,0,0,0,0,0,.1,-.22,-.22,-.17,-.05,.06,.07,0],
[0,-.19,.1,0,-.35,-.26,-.12,-.05,-.1,-.03,0,.03,0,0,0,0,0,0,0,0,0,0,0,0,0,0,0,0,-.08,-.01,.05,.07,0],
[0,-.03,-.15,-.31,0,-.34,-.28,-.25,-.12,-.03,0,0,0,0,0,0,0,0,0,0,0,0,0,0,0,0,0,-.03,-.13,0,.06,-.02,-.03],
[0,-.02,-.1,-.25,-.35,-.05,-.12,-.17,-.2,-.05,0,0,.23,.27,0,0,0,0,0,0,0,0,0,0,0,0,-.03,-.07,-.04,.03,.08,.09,0],
[0,0,0,.05,-.02,0,-.43,-.44,-.29,-.1,-.02,0,-.13,-.14,-.14,-.08,0,0,0,0,0,0,0,0,0,0,-.05,.1,.15,.16,.18,.13,0],
[0,0,.03,0,.06,-.07,-.39,-.44,0,-.32,-.25,-.3,-.44,-.7,-.49,-.35,-.09,-.05,0,0,0,0,0,0,0,0,.25,.16,.27,.18,.1,.09,0],
[0,0,.03,-.01,.03,-.08,-.35,-.44,-.38,-.38,-.38,-.35,-.4,-.41,-.43,-.35,-.05,-.02,-.03,.02,.02,.02,.04,-.03,0,.1,.25,.2,.31,.18,.12,.13,0],
[.01,0,.02,0,0,-.07,-.16,-.21,-.25,-.3,-.3,-.12,-.02,0,0,-.02,-.18,-.04,0,.08,-.08,.06,.13,.16,.23,.29,.34,.35,.27,.22,.1,.09,0],
[0,0,0,0,0,-.05,-.02,0,0,0,0,0,0,0,.35,.46,.22,.09,0,0,0,.25,.36,.32,.42,.37,.38,.39,.35,.3,.14,.02,0]];
const windV=[
[0,-.15,-.18,-.21,-.22,-.23,-.24,-.23,-.22,-.2,-.18,-.14,-.11,-.08,-.03,0,0,0,0,0,0,0,0,0,0,0,0,0,0,0,0,0,0],
[0,-.07,-.09,-.12,-.15,-.16,-.16,-.16,-.15,-.13,-.09,-.06,-.03,-.01,-.01,.06,.09,.12,.17,.21,.25,.3,.31,.31,.31,.31,.31,.31,.31,.31,.31,.31,0],
[0,.03,.01,-.03,-.05,-.06,-.06,-.04,-.03,-.01,0,.03,.06,.07,.09,.1,.12,.12,.14,.15,.17,.21,.25,.28,.32,.32,.38,.38,.38,.37,.31,.27,0],
[0,.04,.01,0,0,0,.03,.06,.09,.11,.15,.16,.18,.18,.17,.16,.14,.11,.1,.09,.09,.12,.15,.19,.22,.25,.27,.28,.24,.23,.15,.11,.09],
[0,-.03,-.06,-.05,-.02,0,.05,.08,.14,.19,.23,.26,.27,.27,.26,.23,.2,.16,.13,.1,.1,.11,.13,.15,.17,.19,.19,.18,.14,.08,.01,0,-.04],
[0,-.13,-.13,-.08,-.06,-.02,.06,.09,.13,.2,.23,.29,.29,.3,.29,.26,.26,.22,.17,.16,.14,.14,.15,.17,.18,.19,.17,.14,.08,.02,-.06,-.11,-.06],
[-.26,-.24,-.21,-.14,-.08,-.03,.04,.08,.11,.15,.2,.23,.27,.29,.29,.29,.24,.22,.2,.17,.15,.13,.13,.13,.13,.13,.12,.09,.04,0,-.07,-.15,0],
[-.29,-.28,-.22,-.16,-.09,-.03,.01,.05,.08,.12,.17,.21,.25,.28,.28,.27,.25,.2,.16,.12,.1,.09,.07,.04,.04,.02,-.02,-.04,-.01,-.04,-.06,-.12,-.1],
[-.29,-.26,-.21,-.16,-.1,-.05,-.01,.01,.05,.11,.17,.22,.27,.27,.27,.23,.18,.15,.14,.08,-.07,-.07,-.05,-.03,0,-.01,-.05,-.08,-.09,-.09,-.08,-.06,-.05],
[-.24,-.22,-.18,-.14,-.11,-.08,-.05,-.02,0,.06,.14,.2,.21,.21,.2,.16,.12,.1,.09,.09,.08,.07,.05,.03,0,-.04,-.08,-.11,-.13,-.12,-.08,-.01,.04],
[-.22,-.19,-.16,-.13,-.11,-.11,-.12,-.1,-.06,0,.03,.09,.11,.11,.09,.08,.05,.03,.01,0,-.02,-.03,-.03,-.01,.01,0,-.03,-.09,-.13,-.13,-.06,.03,.11],
[-.2,-.15,-.11,-.11,-.13,-.18,-.22,-.24,-.2,-.15,-.09,-.04,0,.02,.04,.04,.02,0,-.09,-.18,-.22,-.14,-.21,-.13,0,0,.02,-.03,-.09,-.09,-.02,-.08,-.1],
[-.2,-.06,-.06,-.07,-.14,-.22,-.35,-.4,-.35,-.28,-.1,-.03,-.06,-.04,0,.03,.03,-.06,-.14,0,0,0,0,0,0,0,.13,.06,-.07,-.09,-.03,.2,.3],
[0,0,.05,-.02,-.05,-.26,-.47,-.53,-.5,-.39,-.24,-.12,0,-.01,0,-.01,-.04,-.1,-.2,-.37,-.3,0,0,0,0,0,0,0,.12,.06,.1,.3,.1],
[0,.05,.14,0,-.08,-.28,-.4,-.69,-.4,-.4,-.37,-.22,-.11,-.14,-.11,-.13,-.13,-.07,-.13,-.45,-.3,-.28,0,0,0,0,0,.18,.17,.18,.18,.47,.1],
[0,.1,.18,-.1,0,-.2,-.31,-.34,-.34,-.37,-.49,-.54,-.08,0,0,0,0,0,0,0,-.17,-.1,0,0,.15,.24,.24,.24,.3,.44,.7,.58,.2],
[0,0,.1,.15,0,-.1,-.2,-.28,-.37,-.28,-.31,-.23,0,0,0,0,0,0,0,0,0,0,0,0,0,-.09,.15,.27,.5,.76,.58,.58,-.5],
[0,.06,-.1,0,.14,0,-.14,-.31,-.75,-.43,-.2,-.05,0,0,0,0,0,0,0,0,0,0,0,0,0,0,0,0,.49,.73,.61,.73,.3],
[0,.03,.13,.15,0,0,-.17,-.34,-.37,-.43,0,0,0,0,0,0,0,0,0,0,0,0,0,0,0,0,0,.15,1.07,.3,.6,.73,.58],
[0,.02,-.05,.1,.09,-.02,-.17,-.2,-.37,-.25,0,0,.03,0,0,0,0,0,0,0,0,0,0,0,0,0,.03,.38,.5,.61,.9,.73,.38],
[0,0,0,-.05,-.01,0,-.21,-.31,-.22,-.1,-.02,0,-.1,-.1,-.1,0,0,0,0,0,0,0,0,0,0,0,.35,.47,.53,.41,.7,.29,.5],
[0,.06,.06,0,.05,.1,-.23,-.2,0,.05,.02,-.11,-.25,-.25,0,.29,.2,.05,0,0,0,0,0,0,0,0,.5,.44,.61,.76,.38,.58,.3],
[.03,.12,.12,.06,.02,-.07,-.17,-.18,0,.11,.03,-.14,-.25,-.17,.12,.41,.12,.06,.03,.03,.02,.02,.06,-.05,0,-.02,.44,.41,.73,.53,.12,.55,.24],
[.08,.15,.05,0,-.1,-.25,-.31,-.22,-.05,.05,.02,.03,.03,0,.24,.5,.81,.61,0,0,.01,.06,.06,.05,.03,.15,.38,.44,.55,.32,.38,.5,.3],
[.05,0,0,0,0,.3,.05,0,0,0,0,0,0,0,.29,.41,.24,.24,0,0,0,.03,.03,.06,.09,.15,.32,.47,.53,.47,.35,.24,.3]];
const windSignificant=[[],[],[],[],[],[],[],[],[],[],[21,22,23,24,25],[21,22,23,26],[26],[6,19,20,28],[5,6,7,17,18,19,20,21,27,28,30,31],[5,6,7,8,9,10,11,20,24,25,26,29,30,31,32],[5,6,7,8,9,10,11,26,27,28,29,30,31,32],[4,7,8,9,10,11,28,29,30,31,32],[3,5,7,8,27,28,29,30,31,32],[4,6,7,12,13,27,28,29,30,31,32],[6,7,26,27,28,29,30,31,32],[7,11,12,13,14,15,26,27,28,29,30,31,32],[7,8,9,10,11,12,13,14,15,26,27,28,29,31,32],[5,6,7,8,9,10,15,16,17,26,27,28,29,30,31,32],[5,14,15,16,21,22,23,26,27,28,29,30,31,32]];
const dMaskMain=[[84.8,49.9],[89.7,51.7],[92.1,49.4],[94.9,50.5],[97,53],[100,53],[101.9,50.5],[104.6,47.8],[102.5,45.1],[97.6,42.6],[101.6,40.3],[103.7,39.6],[108,38.3],[107.1,35.5],[104.9,33],[103.7,30.1],[104.7,25.1],[102.5,23.3],[100,22.8],[94.9,28],[92.4,26.7],[87.9,26.5],[79.6,29.2],[72.3,34],[69.3,32.8],[67.5,30.3],[64.4,32.6],[63.2,35.1],[68.7,37.4],[68.7,40.1],[70.5,42.6],[73.6,43.5],[80,45.3],[88.5,42.6],[86.6,41.5],[83.3,41.2],[79.6,39.9],[82.4,38.5],[86,39.4],[91.8,40.1],[94.6,42.6],[88.5,47.4]];
const dMaskWest=[[40,40.1],[42.5,42.1],[44.9,41.2],[45.5,39.2],[49.8,35.3],[52.2,34.9],[57.7,30.1],[55,29.2],[52.8,29.2],[49.8,33.3],[44.3,37.8]];
const dMaskSmall=[[105.2,47.5],[107.4,48],[108.3,47.4],[107,46.7]];
const windKeyValue=1;

// ---------- ticks and colorbars ----------
const aLonTicks=[80,100,120,140,160,180,200,220,240];
const aLonLabels=["80°E","100°E","120°E","140°E","160°E","180°","160°W","140°W","120°W"];
const aLatTicks=[0,10,20,30,40,50,60];
const aLatLabels=["0°","10°N","20°N","30°N","40°N","50°N","60°N"];
const bLonTicks=[70,75,80,85,90,95,100];
const bLonLabels=["70°E","75°E","80°E","85°E","90°E","95°E","100°E"];
const bLatTicks=[35,40,45,50,55];
const bLatLabels=["35°N","40°N","45°N","50°N","55°N"];
const cLonTicks=[40,60,80,100,120,140,160];
const cLonLabels=["40°E","60°E","80°E","100°E","120°E","140°E","160°E"];
const cLatTicks=[0,15,30,45,60];
const cLatLabels=["0°","15°N","30°N","45°N","60°N"];
const dLonTicks=[40,50,60,70,80,90,100,110,120];
const dLonLabels=["40°E","50°E","60°E","70°E","80°E","90°E","100°E","110°E","120°E"];
const dLatTicks=[20,30,40,50,60,70,80];
const dLatLabels=["20°N","30°N","40°N","50°N","60°N","70°N","80°N"];
const bCbarLevels=[-.5,-.4,-.3,-.2,-.1,0,.1,.2,.3,.4,.5];
const bCbarLabels=["-0.5","-0.4","-0.3","-0.2","-0.1","0","0.1","0.2","0.3","0.4","0.5"];
const bCbarColors=["#3953a4","#5b8fc4","#8fc2de","#c2e4ef","#eff8df","#fff0a8","#fdc476","#f88d52","#e34d34","#bc1626"];
const cCbarLevels=[-.7,-.6,-.5,-.4,-.3,-.2,-.1,0,.1,.2,.3,.4,.5,.6,.7];
const cCbarLabels=["-0.7","-0.6","-0.5","-0.4","-0.3","-0.2","-0.1","0","0.1","0.2","0.3","0.4","0.5","0.6","0.7"];
const cCbarColors=["#3a4da2","#4a78b6","#6399c7","#8fc3de","#b3dcea","#ddf1f7","#f2fad8","#fff2ac","#ffd98c","#fdb567","#f98e52","#ee6140","#d73027","#b2182b"];

// ---------- helpers ----------
const NS="http://www.w3.org/2000/svg";
const svg=document.getElementById("fig");
function mk(tag,attrs,parent){const el=document.createElementNS(NS,tag);for(const k in attrs)el.setAttribute(k,attrs[k]);(parent||svg).appendChild(el);return el;}
function axes(box){
  const x=lon=>box.x0+(lon-box.lon0)/(box.lon1-box.lon0)*(box.x1-box.x0);
  const y=lat=>box.y1-(lat-box.lat0)/(box.lat1-box.lat0)*(box.y1-box.y0);
  return {x,y};
}
function straight(pts,ax,closed){return pts.map((p,i)=>(i?"L":"M")+ax.x(p[0]).toFixed(1)+" "+ax.y(p[1]).toFixed(1)).join("")+(closed?"Z":"");}
function bounded(pts,ax,minLat,maxLon){
  let d="",pen=false;
  pts.forEach(p=>{
    const ok=p[1]>=minLat&&p[0]<=maxLon;
    if(ok){d+=(pen?"L":"M")+ax.x(p[0]).toFixed(1)+" "+ax.y(p[1]).toFixed(1);}
    pen=ok;
  });
  return d;
}
function smooth(pts,ax,closed){
  const P=pts.map(p=>[ax.x(p[0]),ax.y(p[1])]);const n=P.length;
  const at=i=>closed?P[(i+n)%n]:P[Math.max(0,Math.min(n-1,i))];
  let d="M"+P[0][0].toFixed(1)+" "+P[0][1].toFixed(1);
  const end=closed?n:n-1;
  for(let i=0;i<end;i++){
    const a=at(i-1),b=at(i),c=at(i+1),e=at(i+2);
    d+="C"+(b[0]+(c[0]-a[0])/6).toFixed(1)+" "+(b[1]+(c[1]-a[1])/6).toFixed(1)+" "+(c[0]-(e[0]-b[0])/6).toFixed(1)+" "+(c[1]-(e[1]-b[1])/6).toFixed(1)+" "+c[0].toFixed(1)+" "+c[1].toFixed(1);
  }
  return d+(closed?"Z":"");
}
function clipFor(id,box){
  const defs=svg.querySelector("defs");
  const cp=mk("clipPath",{id:id},defs);
  mk("rect",{x:box.x0,y:box.y0,width:box.x1-box.x0,height:box.y1-box.y0},cp);
}
function frame(g,box,ax,lonT,lonL,latT,latL,fs,xLabY,yLabX){
  const r=mk("rect",{x:box.x0,y:box.y0,width:box.x1-box.x0,height:box.y1-box.y0,fill:"none",stroke:"#555","stroke-width":3},g);
  
  
  lonT.forEach((v,i)=>{
    const t=mk("line",{x1:ax.x(v),x2:ax.x(v),y1:box.y1,y2:box.y1+11,stroke:"#555","stroke-width":3},g);
    
    
    const s=mk("text",{x:ax.x(v),y:xLabY,"font-size":fs,"text-anchor":"middle","dominant-baseline":"central"},g);
    s.textContent=lonL[i];
    
    
  });
  latT.forEach((v,i)=>{
    const t=mk("line",{x1:box.x0-11,x2:box.x0,y1:ax.y(v),y2:ax.y(v),stroke:"#555","stroke-width":3},g);
    
    
    const s=mk("text",{x:yLabX,y:ax.y(v),"font-size":fs,"text-anchor":"end","dominant-baseline":"central"},g);
    s.textContent=latL[i];
    
    
  });
}
function panelTitle(txt,x,y){
  const s=mk("text",{x:x,y:y,"font-size":47,"dominant-baseline":"central"});
  s.textContent=txt;
  
  
}
function colorbar(levels,labels,colors,left,right,tipL,tipR,top,bot,labY,fs,tipLow,tipHigh){
  const g=mk("g",{});
  
  
  const sx=v=>left+(v-levels[0])/(levels[levels.length-1]-levels[0])*(right-left);
  const a=mk("polygon",{points:`${tipL},${(top+bot)/2} ${left},${top} ${left},${bot}`,fill:tipLow,stroke:"#555","stroke-width":2},g);
  
  
  const b=mk("polygon",{points:`${tipR},${(top+bot)/2} ${right},${top} ${right},${bot}`,fill:tipHigh,stroke:"#555","stroke-width":2},g);
  
  
  colors.forEach((c,i)=>{
    const r=mk("rect",{x:sx(levels[i]),y:top,width:sx(levels[i+1])-sx(levels[i])+.5,height:bot-top,fill:c},g);
    
    
  });
  const o=mk("rect",{x:left,y:top,width:right-left,height:bot-top,fill:"none",stroke:"#555","stroke-width":2},g);
  
  
  levels.forEach((v,i)=>{
    const t=mk("line",{x1:sx(v),x2:sx(v),y1:bot,y2:bot+9,stroke:"#444","stroke-width":2},g);
    
    
    const s=mk("text",{x:sx(v),y:labY,"font-size":fs,"text-anchor":"middle","dominant-baseline":"central"},g);
    s.textContent=labels[i];
    
    
  });
}

// ---------- panel (a) ----------
const boxA={x0:160,x1:1724,y0:82,y1:670,lon0:80,lon1:240,lat0:0,lat1:60};
const axA=axes(boxA);clipFor("clipA",boxA);
const gA=mk("g",{});


const inA=mk("g",{"clip-path":"url(#clipA)"},gA);
const landA=[asiaCoast.concat([[170,64],[70,64]]),kamchatka,alaska,kodiak,northAmerica,haidaGwaii,vancouver,hawaii,hawaiiBig].concat(islandsSmall);
landA.forEach(pts=>{
  const p=mk("path",{d:straight(pts,axA,true),fill:"#dcdcdc",stroke:"#808080","stroke-width":3,"stroke-linejoin":"round"},inA);
  
  
});
const solidOpen=[contourZero,contourOneNorth,contourOneEdge,contourOneSouth,contourTwo,contourZeroNE,contourZeroSE];
const solidClosed=[contourThree,contourFour,contourFive,contourSixWest,contourSixEast];
solidOpen.forEach(pts=>{
  const p=mk("path",{d:smooth(pts,axA,false),fill:"none",stroke:"#faa61a","stroke-width":4},inA);
  
  
});
solidClosed.forEach(pts=>{
  const p=mk("path",{d:smooth(pts,axA,true),fill:"none",stroke:"#faa61a","stroke-width":4},inA);
  
  
});
const dashed1=mk("path",{d:smooth(contourMinusOne,axA,false),fill:"none",stroke:"#faa61a","stroke-width":3.6,"stroke-dasharray":"13 5"},inA);


[contourMinusTwo,contourMinusThree].forEach(pts=>{
  const p=mk("path",{d:smooth(pts,axA,true),fill:"none",stroke:"#faa61a","stroke-width":3.6,"stroke-dasharray":"13 5"},inA);
  
  
});
contourLabels.forEach(l=>{
  const w=l[0].length>1?28:17;
  const b=mk("rect",{x:axA.x(l[1])-w/2,y:axA.y(l[2])-15,width:w,height:30,fill:"#fff"},inA);
  
  
  const s=mk("text",{x:axA.x(l[1]),y:axA.y(l[2]),"font-size":27,"text-anchor":"middle","dominant-baseline":"central"},inA);
  s.textContent=l[0];
  
  
});
frame(gA,boxA,axA,aLonTicks,aLonLabels,aLatTicks,aLatLabels,48,708,143);
panelTitle("(a)",170,44);

// ---------- panel (b) ----------
const boxB={x0:1952,x1:3125,y0:82,y1:867,lon0:70,lon1:100,lat0:35,lat1:55};
const axB=axes(boxB);clipFor("clipB",boxB);
const gB=mk("g",{});


const defsEl=svg.querySelector("defs");
const regionClip=mk("clipPath",{id:"clipXinjiang"},defsEl);
mk("path",{d:straight(xinjiangBorder.concat([[100,35]]),axB,true)},regionClip);
const inB=mk("g",{"clip-path":"url(#clipB)"},gB);
const bFill=mk("g",{"clip-path":"url(#clipXinjiang)"},inB);
const baseB=mk("rect",{x:boxB.x0,y:boxB.y0,width:boxB.x1-boxB.x0,height:boxB.y1-boxB.y0,fill:"#eff8df"},bFill);


const bLayers=[[bYellowWest,"#fff0a8"],[bOrangeWestA,"#fdc476"],[bOrangeWestB,"#fdc476"],[bYellowCentral,"#fff0a8"],[bOrangeCentral,"#fdc476"]]
 .concat(bYellowEast.map(a=>[a,"#fff0a8"])).concat(bLightBlueSouth.map(a=>[a,"#c2e4ef"]))
 .concat([[bLightBlue,"#c2e4ef"],[bMidBlue,"#8fc2de"],[bDarkBlue,"#4f7dbb"]]);
bLayers.forEach(l=>{
  const p=mk("path",{d:smooth(l[0],axB,true),fill:l[1]},bFill);
  
  
});
const stipB=mk("path",{d:straight(bStipple,axB,true),fill:"url(#dotsB)"},bFill);


const borderB=mk("path",{d:straight(xinjiangBorder,axB,false),fill:"none",stroke:"#666","stroke-width":3,"stroke-linejoin":"round"},inB);


const studyBox=mk("rect",{x:axB.x(bStudyBox[0]),y:axB.y(bStudyBox[3]),width:axB.x(bStudyBox[1])-axB.x(bStudyBox[0]),height:axB.y(bStudyBox[2])-axB.y(bStudyBox[3]),fill:"none",stroke:"#222","stroke-width":3},inB);


frame(gB,boxB,axB,bLonTicks,bLonLabels,bLatTicks,bLatLabels,43,902,1934);
panelTitle("(b)",1958,44);
colorbar(bCbarLevels,bCbarLabels,bCbarColors,2005,3071,1951,3125,946,984,1019,42,"#2f3a97","#a50026");

// ---------- panel (c) ----------
const boxC={x0:160,x1:1725,y0:1141,y1:1927,lon0:40,lon1:160,lat0:0,lat1:60};
const axC=axes(boxC);clipFor("clipC",boxC);
const gC=mk("g",{});


const inC=mk("g",{"clip-path":"url(#clipC)"},gC);
const baseC=mk("rect",{x:boxC.x0,y:boxC.y0,width:boxC.x1-boxC.x0,height:boxC.y1-boxC.y0,fill:cBase},inC);


const cLayers=[[cWarmTop,"#ffd98c"],[cWarmLeft,"#ffd98c"],[cGreen,"#f2fad8"],[cPaleBlue,"#ddf1f7"],[cTibetGreen,"#f2fad8"],[cBlueOuter,"#b3dcea"],[cBlueMid,"#8fc3de"],[cBlueMidEast,"#8fc3de"],[cLighterSouth,"#a9d5e7"],[cDeepNorth,"#6399c7"],[cDeepArabian,"#6399c7"],[cYellowEast,"#fff2ac"],[cOrangePale,"#ffd98c"],[cOrangeBlob,"#ffd98c"],[cOrangeMid,"#fdb567"],[cOrangeStrong,"#f98e52"],[cOrangeCore,"#f47b4c"]];
cLayers.forEach(l=>{
  const p=mk("path",{d:smooth(l[0],axC,true),fill:l[1]},inC);
  
  
});
[cStippleMain,cStippleEast].forEach(pts=>{
  const p=mk("path",{d:straight(pts,axC,true),fill:"url(#dotsC)"},inC);
  
  
});
const cLines=[asiaCoast,africaCoast,chinaBorder,koreaBorder,kamchatka];
cLines.forEach(pts=>{
  const p=mk("path",{d:straight(pts,axC,false),fill:"none",stroke:"#111","stroke-width":2.6,"stroke-linejoin":"round"},inC);
  
  
});
islandsSmall.concat([caspian,blackSea]).forEach(pts=>{
  const p=mk("path",{d:straight(pts,axC,true),fill:"none",stroke:"#111","stroke-width":2.6,"stroke-linejoin":"round"},inC);
  
  
});
[kurils,ryukyu,marianas].forEach(pts=>{
  const p=mk("path",{d:straight(pts,axC,false),fill:"none",stroke:"#111","stroke-width":3,"stroke-dasharray":"7 9"},inC);
  
  
});
frame(gC,boxC,axC,cLonTicks,cLonLabels,cLatTicks,cLatLabels,48,1960,143);
panelTitle("(c)",170,1108);
colorbar(cCbarLevels,cCbarLabels,cCbarColors,320,1565,258,1627,2006,2043,2075,42,"#2f3a97","#a50026");

// ---------- panel (d) ----------
const boxD={x0:1952,x1:3125,y0:1141,y1:2023,lon0:40,lon1:120,lat0:20,lat1:80};
const axD=axes(boxD);clipFor("clipD",boxD);
const gD=mk("g",{});


const inD=mk("g",{"clip-path":"url(#clipD)"},gD);
const dOpen=[asiaCoast,africaCoast,arcticCoast,severnayaA];
dOpen.forEach(pts=>{
  const p=mk("path",{d:bounded(pts,axD,15.5,125),fill:"none",stroke:"#111","stroke-width":2.6,"stroke-linejoin":"round"},inD);
  
  
});
[caspian,blackSea,novayaZemlya,severnayaB].forEach(pts=>{
  const p=mk("path",{d:straight(pts,axD,true),fill:"none",stroke:"#111","stroke-width":2.6,"stroke-linejoin":"round"},inD);
  
  
});
const PX_PER_MS=116;
function arrowShape(x,y,u,v){
  const dx=u*PX_PER_MS,dy=-v*PX_PER_MS,len=Math.hypot(dx,dy);
  const ux=dx/len,uy=dy/len,nx=-uy,ny=ux;
  const hl=Math.min(14,len*.85),hw=Math.min(6.5,Math.max(2.6,len*.4)),sw=1.5;
  const bx=x+ux*(len-hl),by=y+uy*(len-hl),tx=x+dx,ty=y+dy;
  const f=n=>n.toFixed(1);
  return [[x+nx*sw,y+ny*sw],[bx+nx*sw,by+ny*sw],[bx+nx*hw,by+ny*hw],[tx,ty],[bx-nx*hw,by-ny*hw],[bx-nx*sw,by-ny*sw],[x-nx*sw,y-ny*sw]].map(p=>f(p[0])+","+f(p[1])).join(" ");
}
windU.forEach((row,r)=>{
  const lat=80-2.5*r;
  row.forEach((u,c)=>{
    const v=windV[r][c];
    if(u===0&&v===0)return;
    const lon=40+2.5*c;
    const sig=windSignificant[r].includes(c);
    const a=mk("polygon",{points:arrowShape(axD.x(lon),axD.y(lat),u,v),fill:sig?"#1a1ae0":"#111"},inD);
    
    
  });
});
[dMaskMain,dMaskWest,dMaskSmall].forEach(pts=>{
  const p=mk("path",{d:straight(pts,axD,true),fill:"#c4c4c4"},inD);
  
  
});
frame(gD,boxD,axD,dLonTicks,dLonLabels,dLatTicks,dLatLabels,43.5,2060,1934);
panelTitle("(d)",1958,1108);
const keyLen=windKeyValue*PX_PER_MS;
const key=mk("polygon",{points:arrowShape(2843,1113,windKeyValue,0),fill:"#111"});


const keyT=mk("text",{x:2843+keyLen+21,y:1112,"font-size":50,"dominant-baseline":"central"});
keyT.textContent="1 m/s";


</script>
</body></html>
